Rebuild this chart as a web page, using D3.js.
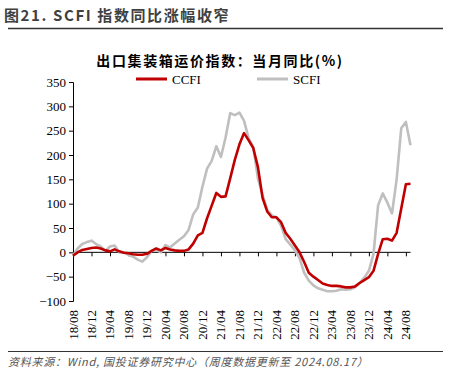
<!DOCTYPE html>
<html><head><meta charset="utf-8">
<script src="https://cdn.jsdelivr.net/npm/d3@7"></script>
<style>body{margin:0;background:#fff;}svg{display:block;}</style>
</head><body>
<script>
// Monthly, 2018-08 .. 2024-09
const startYear = 2018, startMonth = 8;
const ccfi = [-7,0,5,7,9,10,8,4,2,6,2,-1,-2,-4,-5,-5,-3,3,8,4,9,6,4,3,3,6,18,35,40,70,96,122,114,115,
  152,190,222,245,230,214,175,112,84,72,72,62,40,28,14,0,-20,-42,-50,-57,-64,-67,-69,-69,-70,-72,-72,-70,-63,-57,-51,-38,-3,27,28,24,40,90,140,141];
const scfi = [-7,8,17,21,24,17,12,3,12,14,0,0,-5,-9,-15,-19,-10,3,5,0,15,10,18,26,33,46,78,92,135,172,188,218,196,236,
  286,282,287,270,234,216,152,118,88,76,72,55,27,16,4,-12,-42,-58,-68,-74,-77,-80,-80,-79,-76,-77,-76,-72,-63,-52,-38,-3,97,121,102,80,150,255,268,220];
const tickLabels = ["18/08","18/12","19/04","19/08","19/12","20/04","20/08","20/12","21/04","21/08","21/12","22/04","22/08","22/12","23/04","23/08","23/12","24/04","24/08"];
const yTicks = [-100,-50,0,50,100,150,200,250,300,350];
const seriesNames = ["CCFI","SCFI"];
const colors = ["#C00000","#BFBFBF"];

const W = 451, H = 378;
const svg = d3.select("body").append("svg").attr("width", W).attr("height", H);

// header
svg.append("text").attr("x", 4).attr("y", 21)
  .attr("font-family", "'Noto Sans CJK SC', sans-serif").attr("font-weight", "bold")
  .attr("font-size", 15).attr("letter-spacing", 1.6).attr("fill", "#404040").text("图21. SCFI 指数同比涨幅收窄");
svg.append("line").attr("x1", 8).attr("x2", 443).attr("y1", 28.5).attr("y2", 28.5)
  .attr("stroke", "#333").attr("stroke-width", 1.5);

svg.append("text").attr("x", 220).attr("y", 66).attr("text-anchor", "middle")
  .attr("font-family", "'Noto Sans CJK SC', sans-serif").attr("font-weight", "bold")
  .attr("font-size", 14).attr("letter-spacing", 1.6).attr("fill", "#000").text("出口集装箱运价指数：当月同比(%)");

// scales
const n = ccfi.length;
const x = d3.scaleLinear().domain([0, n - 1]).range([73, 410.5]);
const y = d3.scaleLinear().domain([-100, 350]).range([301, 82]);

// y axis
const yAxis = svg.append("g").attr("transform", "translate(73,0)")
  .call(d3.axisLeft(y).tickValues(yTicks).tickSize(4).tickPadding(3));
yAxis.selectAll("text").attr("font-family", "'Liberation Serif', 'Times New Roman', serif")
  .attr("font-size", 13).attr("fill", "#000");
yAxis.selectAll("path,line").attr("stroke", "#000").attr("stroke-width", 1);

// x axis at zero
const tickIdx = tickLabels.map((d, i) => i * 4);
const xAxis = svg.append("g").attr("transform", `translate(0,${y(0)})`)
  .call(d3.axisBottom(x).tickValues(tickIdx).tickSize(4).tickSizeOuter(0).tickFormat(() => ""));
xAxis.select(".domain").attr("d", `M${x(0)},0H${x(n - 1)}`);
xAxis.selectAll("path,line").attr("stroke", "#000").attr("stroke-width", 1);

// rotated labels at bottom
svg.append("g").selectAll("text").data(tickLabels).join("text")
  .attr("transform", (d, i) => `translate(${x(tickIdx[i]) + 4.5},310) rotate(-90)`)
  .attr("text-anchor", "end")
  .attr("font-family", "'Liberation Serif', 'Times New Roman', serif")
  .attr("font-size", 13).attr("fill", "#000").text(d => d);

// lines
const line = d3.line().x((d, i) => x(i)).y(d => y(d));
[scfi, ccfi].forEach((s, k) => {
  svg.append("path").datum(s).attr("d", line).attr("fill", "none")
    .attr("stroke", k === 0 ? colors[1] : colors[0]).attr("stroke-width", 2.6)
    .attr("stroke-linejoin", "round");
});

// legend
const legX = [136, 257];
seriesNames.forEach((nm, i) => {
  svg.append("line").attr("x1", legX[i]).attr("x2", legX[i] + 31).attr("y1", 79).attr("y2", 79)
    .attr("stroke", colors[i]).attr("stroke-width", 3);
  svg.append("text").attr("x", legX[i] + 36).attr("y", 84)
    .attr("font-family", "'Liberation Serif', 'Times New Roman', serif")
    .attr("font-size", 13).attr("fill", "#000").text(nm);
});

// footer
svg.append("line").attr("x1", 8).attr("x2", 443).attr("y1", 351.5).attr("y2", 351.5)
  .attr("stroke", "#333").attr("stroke-width", 1.2);
svg.append("text").attr("x", 8).attr("y", 366)
  .attr("font-family", "'Noto Sans CJK SC', sans-serif").attr("font-style", "italic")
  .attr("font-size", 11).attr("letter-spacing", 0.75).attr("fill", "#555")
  .text("资料来源：Wind, 国投证券研究中心（周度数据更新至 2024.08.17）");
</script>
</body></html>
